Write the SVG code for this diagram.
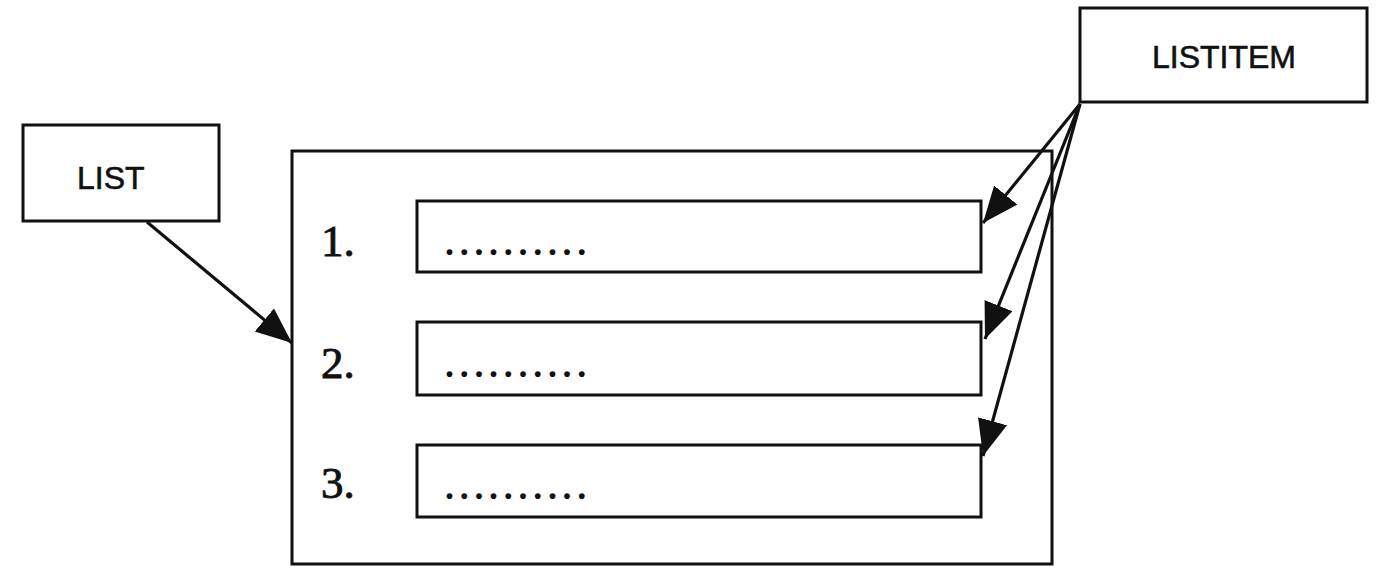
<svg xmlns="http://www.w3.org/2000/svg" width="1387" height="585" viewBox="0 0 1387 585">
<defs>
<style>
.box{fill:none;stroke:#111;stroke-width:3}
.lbl{font-family:"Liberation Sans",Arial,sans-serif;font-size:32px;fill:#111;stroke:#111;stroke-width:0.6}
.num{font-family:"Liberation Serif","Times New Roman",serif;font-size:45px;fill:#111;stroke:#111;stroke-width:0.9}
.dots{font-family:"Liberation Serif","Times New Roman",serif;font-size:36px;font-weight:bold;fill:#111;letter-spacing:5.7px}
.conn{fill:none;stroke:#111;stroke-width:3.2}
</style>
<marker id="ah" markerUnits="userSpaceOnUse" markerWidth="40" markerHeight="32" refX="36" refY="15" orient="auto">
<path d="M0,0 L36,15 L0,30 Z" fill="#111"/>
</marker>
</defs>
<rect width="1387" height="585" fill="#fff"/>
<g id="list">
<rect class="box" x="23" y="125" width="196" height="96"/>
<text class="lbl" x="77" y="189">LIST</text>
</g>
<g id="listitem">
<rect class="box" x="1080" y="8" width="287" height="94"/>
<text class="lbl" x="1152" y="68">LISTITEM</text>
</g>
<g id="container">
<rect class="box" x="292" y="151" width="760" height="413"/>
</g>
<g id="item1">
<text class="num" x="321" y="256">1.</text>
<rect class="box" x="417" y="201" width="564" height="71"/>
<text class="dots" x="445" y="255">..........</text>
</g>
<g id="item2">
<text class="num" x="321" y="378">2.</text>
<rect class="box" x="417" y="322" width="564" height="73"/>
<text class="dots" x="445" y="377">..........</text>
</g>
<g id="item3">
<text class="num" x="321" y="498">3.</text>
<rect class="box" x="417" y="445" width="564" height="72"/>
<text class="dots" x="445" y="499">..........</text>
</g>
<g id="connectors">
<line class="conn" x1="147" y1="222" x2="292" y2="343" marker-end="url(#ah)"/>
<line class="conn" x1="1080" y1="104" x2="983" y2="223" marker-end="url(#ah)"/>
<line class="conn" x1="1080" y1="104" x2="985" y2="339" marker-end="url(#ah)"/>
<line class="conn" x1="1080" y1="104" x2="983" y2="456" marker-end="url(#ah)"/>
</g>
</svg>
